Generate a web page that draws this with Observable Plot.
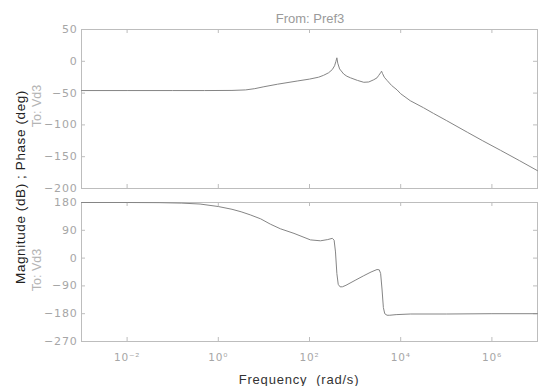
<!DOCTYPE html>
<html>
<head>
<meta charset="utf-8">
<script src="https://cdn.jsdelivr.net/npm/d3@7"></script>
<script src="https://cdn.jsdelivr.net/npm/@observablehq/plot@0.6"></script>
<style>
  html, body { margin: 0; padding: 0; background: #fff; }
  #wrap { position: relative; width: 538px; height: 386px; overflow: hidden; background: #fff; font-family: "DejaVu Sans", sans-serif; }
  #wrap svg { position: absolute; left: 0; }
  .lbl { position: absolute; white-space: pre; transform: translate(-50%, -50%); }
  .rot { transform: translate(-50%, -50%) rotate(-90deg); }
</style>
</head>
<body>
<div id="wrap"></div>
<script>
// ---- data ----
const title = "From: Pref3";
const outputLabel = "To: Vd3";
const yTitle = "Magnitude (dB) ; Phase (deg)";
const xTitle = "Frequency  (rad/s)";

// magnitude curve: log10(frequency) and dB
const magLogW = [-3, -2, -1, -0.3, 0.3, 0.6, 0.8, 1.0, 1.3, 1.73, 2.0, 2.2, 2.31, 2.42, 2.5, 2.55, 2.58, 2.6, 2.62, 2.66, 2.75, 2.82, 2.9, 3.05, 3.19, 3.3, 3.41, 3.48, 3.52, 3.56, 3.58, 3.6, 3.64, 3.7, 3.8, 3.92, 4.0, 4.21, 4.5, 4.72, 5.0, 5.46, 5.8, 6.19, 6.6, 7.0];
const magDb   = [-46, -46, -46, -46, -45.8, -45, -43, -40, -36, -31, -28, -25, -22, -18, -13, -7, 0, 5.5, -3, -12, -20, -23.5, -26, -30, -33, -32.5, -29, -26, -22, -18, -15.5, -19, -25, -30, -38, -45, -51, -62, -73, -82, -93, -111.5, -125, -140, -156, -172];

// phase curve: log10(frequency) and degrees
const phLogW = [-3, -2, -1.3, -0.8, -0.4, 0, 0.3, 0.5, 0.7, 0.93, 1.14, 1.36, 1.66, 2.02, 2.24, 2.4, 2.5, 2.54, 2.57, 2.6, 2.63, 2.67, 2.72, 2.8, 3.0, 3.19, 3.35, 3.48, 3.53, 3.56, 3.59, 3.62, 3.65, 3.7, 3.76, 3.9, 4.21, 5, 6, 7];
const phDeg  = [180, 180, 179.5, 178, 175, 167, 158, 150, 140, 127, 110, 95, 80, 59, 56, 60, 64, 58, 20, -50, -85, -93, -93, -88, -72, -57, -45, -37, -38, -50, -100, -160, -180, -185, -185, -183, -181, -181, -180, -180];

const xTicks = [1e-2, 1e0, 1e2, 1e4, 1e6];
const xTickLabels = ["10\u207B\u00B2", "10\u2070", "10\u00B2", "10\u2074", "10\u2076"];
const magTicks = [50, 0, -50, -100, -150, -200];
const phTicks = [180, 90, 0, -90, -180, -270];
const xDomain = [1e-3, 1e7];
const magDomain = [-200, 50];
const phDomain = [-270, 180];

// ---- build ----
const magData = magLogW.map((e, i) => ({w: 10 ** e, v: magDb[i]}));
const phData = phLogW.map((e, i) => ({w: 10 ** e, v: phDeg[i]}));

const W = 538, ML = 81, MR = 1;
const innerW = W - ML - MR;
const frameColor = "#bdbdbd";
const tickColor = "#a6a6a6";
const lineColor = "#858585";
const tick = 4;

function panel({data, yDomain, yTicks, height, marginTop, marginBottom, showX}) {
  const innerH = height - marginTop - marginBottom;
  const marks = [
    Plot.frame({stroke: frameColor}),
    Plot.tickY(yTicks, {y: d => d, insetRight: innerW - tick, stroke: frameColor}),
    Plot.tickY(yTicks, {y: d => d, insetLeft: innerW - tick, stroke: frameColor}),
    Plot.tickX(xTicks, {x: d => d, insetBottom: innerH - tick, stroke: frameColor}),
    Plot.tickX(xTicks, {x: d => d, insetTop: innerH - tick, stroke: frameColor}),
    Plot.axisY(yTicks, {tickSize: 0, tickPadding: 4, color: tickColor, label: null, fontSize: 11}),
    Plot.line(data, {x: "w", y: "v", stroke: lineColor, strokeWidth: 1})
  ];
  if (showX) {
    marks.push(Plot.axisX(xTicks, {tickSize: 0, tickPadding: 12, color: tickColor, label: null, fontSize: 10.5,
      tickFormat: d => xTickLabels[xTicks.indexOf(d)]}));
  }
  return Plot.plot({
    width: W, height, marginTop, marginBottom, marginLeft: ML, marginRight: MR,
    x: {type: "log", domain: xDomain, ...(showX ? {} : {axis: null})},
    y: {domain: yDomain},
    style: {fontFamily: "DejaVu Sans", background: "transparent", overflow: "visible", letterSpacing: "0.8px"},
    marks
  });
}

const wrap = document.getElementById("wrap");
const topSvg = panel({data: magData, yDomain: magDomain, yTicks: magTicks, height: 196, marginTop: 29, marginBottom: 8, showX: false});
topSvg.style.top = "0px";
const botSvg = panel({data: phData, yDomain: phDomain, yTicks: phTicks, height: 196, marginTop: 12, marginBottom: 45, showX: true});
botSvg.style.top = "190px";
wrap.appendChild(topSvg);
wrap.appendChild(botSvg);

function addLabel(text, x, y, css, rotate) {
  const d = document.createElement("div");
  d.className = "lbl" + (rotate ? " rot" : "");
  d.textContent = text;
  d.style.left = x + "px";
  d.style.top = y + "px";
  Object.assign(d.style, css);
  wrap.appendChild(d);
}
const sans = "'Liberation Sans', Arial, sans-serif";
addLabel(title, 310, 18, {fontSize: "13px", color: "#9a9a9a", fontFamily: sans});
addLabel(outputLabel, 37, 106, {fontSize: "12.5px", color: "#b4b4b4", fontFamily: sans}, true);
addLabel(outputLabel, 37, 270, {fontSize: "12.5px", color: "#b4b4b4", fontFamily: sans}, true);
addLabel(yTitle, 20, 187, {fontSize: "13.5px", color: "#222", fontFamily: sans, letterSpacing: "0.6px"}, true);
addLabel(xTitle, 299, 379, {fontSize: "13px", color: "#333", fontFamily: sans, letterSpacing: "0.8px"});
</script>
</body>
</html>
